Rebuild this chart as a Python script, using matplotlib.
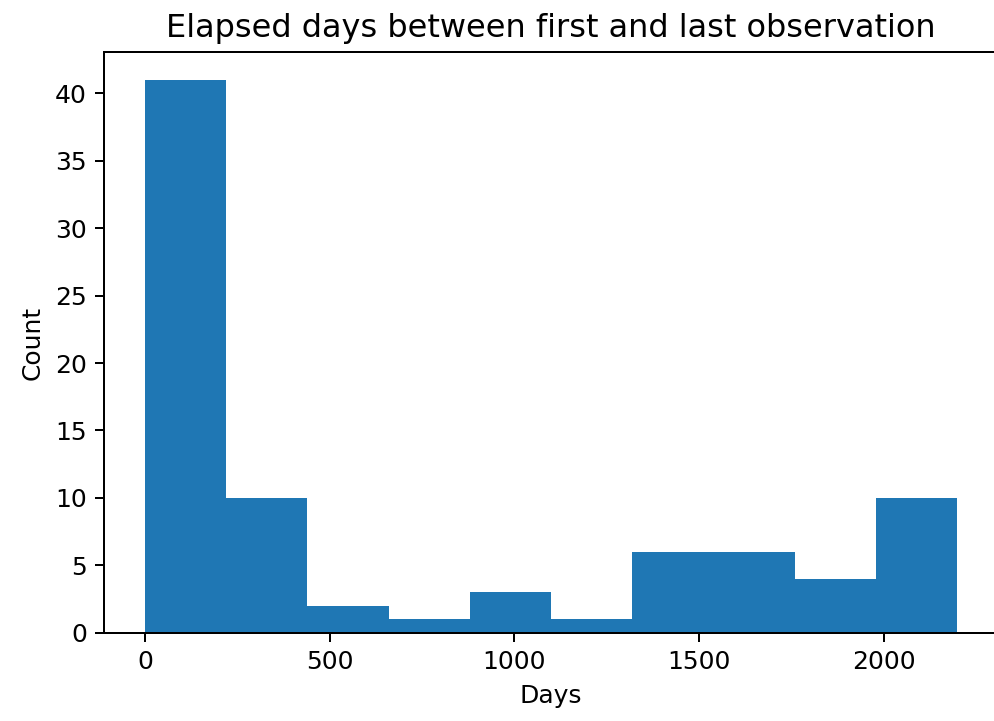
import numpy as np
import matplotlib
matplotlib.use("Agg")
import matplotlib.pyplot as plt

# histogram counts per bin (10 equal bins)
counts = [41, 10, 2, 1, 3, 1, 6, 6, 4, 10]
days_min = 0
days_max = 2199

edges = np.linspace(days_min, days_max, len(counts) + 1)

dpi = 180
fig = plt.figure(figsize=(994 / dpi, 721 / dpi), dpi=dpi)
ax = fig.add_axes([104.3 / 994, (721 - 632.7) / 721,
                   (998 - 104.3) / 994, (632.7 - 52.3) / 721])

ax.hist(edges[:-1], bins=edges, weights=counts, color="#1f77b4")

ax.set_title("Elapsed days between first and last observation", fontsize=12.8)
ax.set_xlabel("Days")
ax.set_ylabel("Count")

fig.savefig("out.png", dpi=dpi)
